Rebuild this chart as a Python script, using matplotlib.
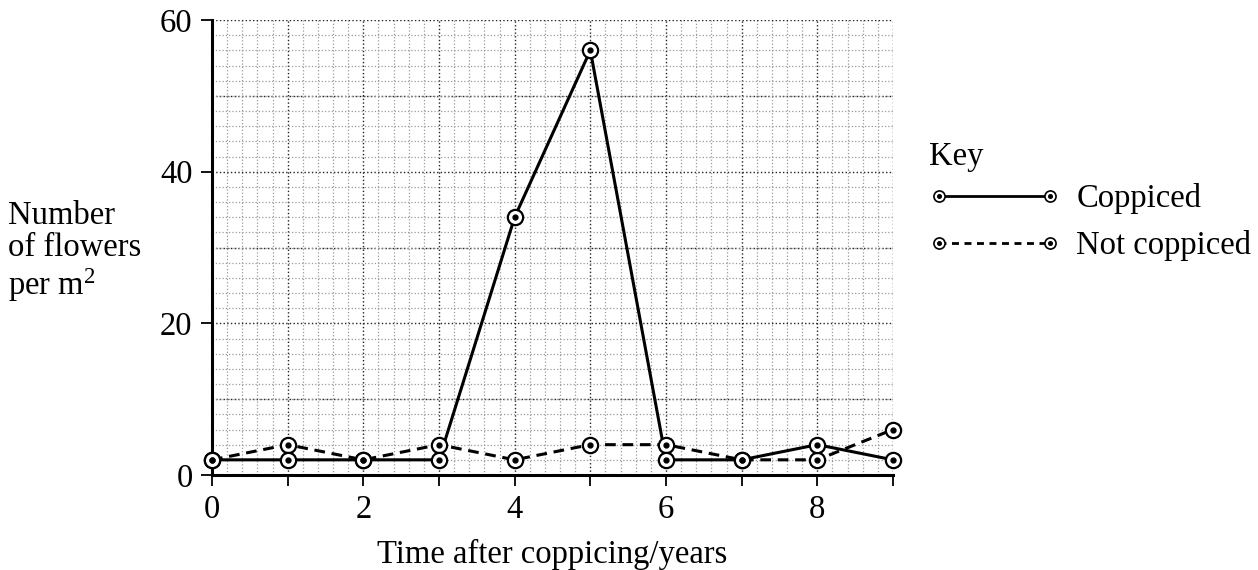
import matplotlib
matplotlib.use("Agg")
import matplotlib.pyplot as plt
from matplotlib.lines import Line2D
from matplotlib.ticker import MultipleLocator

plt.rcParams["font.family"] = ["Liberation Serif", "DejaVu Serif"]
plt.rcParams["mathtext.fontset"] = "custom"
plt.rcParams["mathtext.rm"] = "Liberation Serif"

years = [0, 1, 2, 3, 4, 5, 6, 7, 8, 9]
coppiced = [2, 2, 2, 2, 34, 56, 2, 2, 4, 2]
not_coppiced = [2, 4, 2, 4, 2, 4, 4, 2, 2, 6]

FS = 23.5

fig = plt.figure(figsize=(12.58, 5.70), dpi=100)
ax = fig.add_axes([212 / 1258, 95 / 570, 681 / 1258, 455 / 570])

ax.set_xlim(0, 9)
ax.set_ylim(0, 60)

# grid: fine lines every 0.2 years / 2 flowers, heavier every year / 10 flowers
ax.xaxis.set_minor_locator(MultipleLocator(0.2))
ax.yaxis.set_major_locator(MultipleLocator(20))
ax.yaxis.set_minor_locator(MultipleLocator(2))
ax.set_xticks([0, 1, 2, 3, 4, 5, 6, 7, 8, 9])
ax.set_xticklabels(["0", "", "2", "", "4", "", "6", "", "8", ""])

ax.grid(which="minor", linestyle=":", color="#9a9a9a", linewidth=0.9)
ax.grid(which="major", linestyle=":", color="#222222", linewidth=1.0)
for yv in [10, 30, 50]:
    ax.axhline(yv, linestyle=":", color="#222222", linewidth=1.0, zorder=0.5)
ax.set_axisbelow(True)

for s in ["top", "right"]:
    ax.spines[s].set_visible(False)
for s in ["left", "bottom"]:
    ax.spines[s].set_linewidth(2.2)
    ax.spines[s].set_zorder(1)

ax.tick_params(which="major", direction="out", length=8, width=1.3, labelsize=FS, pad=6)
ax.tick_params(which="minor", length=0)

line_kw = dict(color="black", linewidth=2.2, clip_on=False, zorder=3)
ring_kw = dict(linestyle="none", marker="o", markersize=11, markerfacecolor="white",
               markeredgecolor="black", markeredgewidth=1.6, clip_on=False, zorder=4)
dot_kw = dict(linestyle="none", marker="o", markersize=3.5, color="black", clip_on=False, zorder=5)

ax.plot(years, not_coppiced, linestyle=(0, (3.5, 2.2)), **line_kw)
ax.plot(years, coppiced, linestyle="-", **line_kw)
ax.plot(years, not_coppiced, **ring_kw)
ax.plot(years, coppiced, **ring_kw)
ax.plot(years, not_coppiced, **dot_kw)
ax.plot(years, coppiced, **dot_kw)

ax.set_xlabel("Time after coppicing/years", fontsize=FS, labelpad=10)

fig.text(8 / 1258, 1 - 252 / 570, "Number\nof flowers\nper m$\\mathregular{^2}$",
         fontsize=FS, ha="left", va="center", linespacing=1.09)

# key
h_solid = (Line2D([], [], color="black", linewidth=2.0,
                  marker="o", markersize=8, markerfacecolor="white", markeredgecolor="black",
                  markeredgewidth=1.2),
           Line2D([], [], linestyle="none", marker="o", markersize=2.6, color="black"))
h_dash = (Line2D([], [], color="black", linewidth=2.0, linestyle=(0, (2.5, 2.0)),
                 marker="o", markersize=8, markerfacecolor="white", markeredgecolor="black",
                 markeredgewidth=1.2),
          Line2D([], [], linestyle="none", marker="o", markersize=2.6, color="black"))
leg = fig.legend([h_solid, h_dash], ["Coppiced", "Not coppiced"], title="Key",
                 loc="upper left", bbox_to_anchor=(900 / 1258, 1 - 112 / 570),
                 frameon=False, numpoints=2, handlelength=4.0, handletextpad=0.5,
                 fontsize=FS, title_fontsize=FS, labelspacing=0.5, alignment="left")
leg._legend_box.sep = 8

fig.savefig("out.png", dpi=100)
